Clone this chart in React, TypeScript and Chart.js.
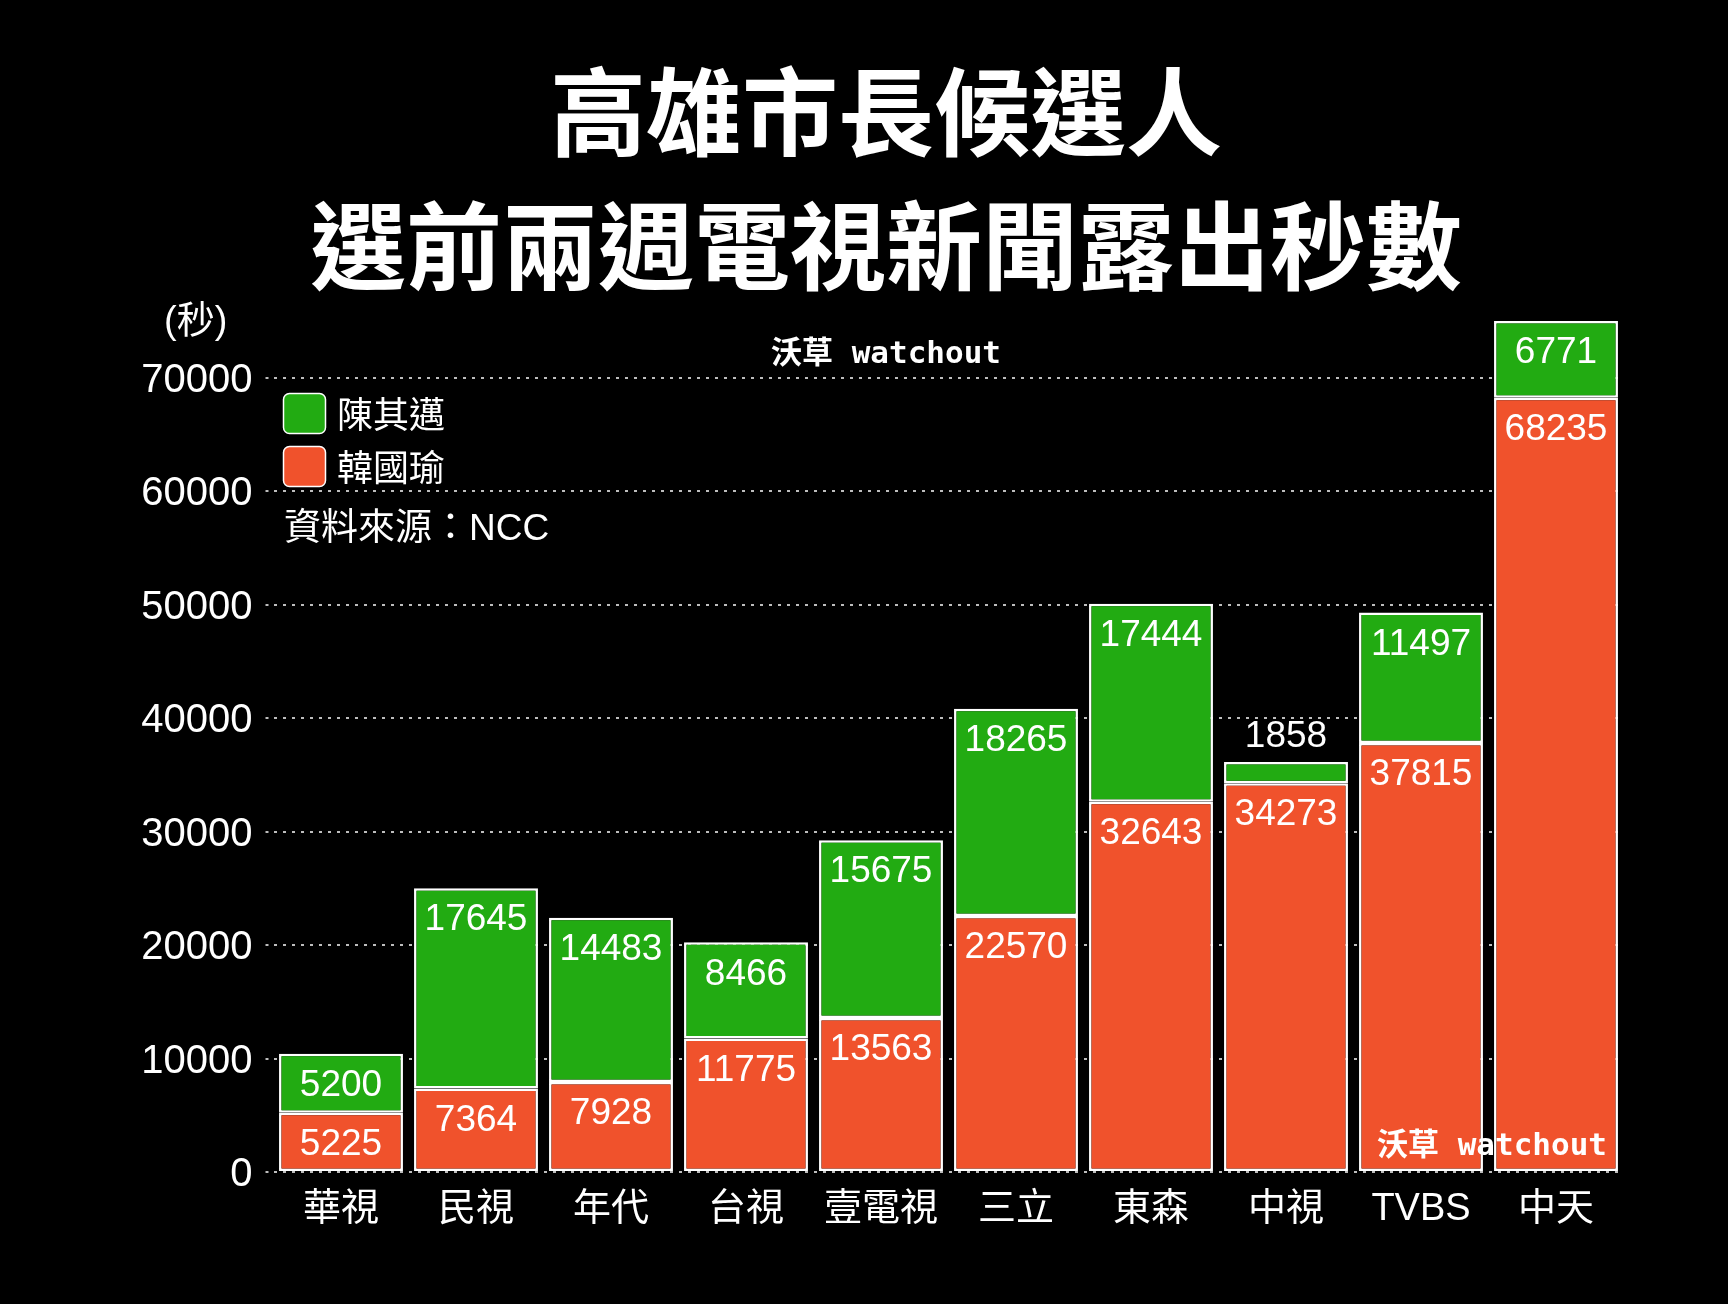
import React, { useEffect, useRef } from 'react';
import { Chart, registerables } from 'chart.js';

Chart.register(...registerables);

const TITLE_LINES = ['高雄市長候選人', '選前兩週電視新聞露出秒數'];
const CATEGORIES = ['華視', '民視', '年代', '台視', '壹電視', '三立', '東森', '中視', 'TVBS', '中天'];
const HAN_VALUES = [5225, 7364, 7928, 11775, 13563, 22570, 32643, 34273, 37815, 68235];
const CHEN_VALUES = [5200, 17645, 14483, 8466, 15675, 18265, 17444, 1858, 11497, 6771];
const Y_TICKS = [0, 10000, 20000, 30000, 40000, 50000, 60000, 70000];
const SERIES_HAN = '韓國瑜';
const SERIES_CHEN = '陳其邁';
const UNIT_LABEL = '(秒)';
const SOURCE_LABEL = '資料來源：NCC';
const WATERMARK = '沃草 watchout';

const GREEN = 'rgb(34,171,18)';
const RED = 'rgb(240,82,44)';
const SANS = "'Liberation Sans', 'Noto Sans CJK TC', sans-serif";
const CJK = "'Noto Sans CJK TC', 'Liberation Sans', sans-serif";
const MONO = "'DejaVu Sans Mono', 'Noto Sans CJK TC', monospace";

const W = 1728;
const H = 1304;

const decorPlugin = {
  id: 'decor',
  beforeDraw(chart: any) {
    const ctx = chart.ctx;
    ctx.save();
    ctx.fillStyle = '#000';
    ctx.fillRect(0, 0, chart.width, chart.height);
    ctx.restore();
  },
  afterDatasetsDraw(chart: any) {
    const ctx = chart.ctx;
    ctx.save();
    ctx.fillStyle = '#fff';
    ctx.textAlign = 'center';
    ctx.textBaseline = 'middle';
    ctx.font = `37px ${SANS}`;
    chart.data.datasets.forEach((ds: any, di: number) => {
      const meta = chart.getDatasetMeta(di);
      meta.data.forEach((el: any, i: number) => {
        const { x, y, base } = el.getProps(['x', 'y', 'base'], true);
        const h = base - y;
        const ty = h < 50 ? y - 25 : y + 32;
        ctx.fillText(String(ds.data[i]), x, ty);
      });
    });
    // bottom watermark
    ctx.font = `bold 31px ${MONO}`;
    ctx.textAlign = 'center';
    ctx.fillText(WATERMARK, 1492, 1147);
    ctx.restore();
  },
  afterDraw(chart: any) {
    const ctx = chart.ctx;
    ctx.save();
    ctx.fillStyle = '#fff';
    // title
    ctx.textAlign = 'center';
    ctx.textBaseline = 'middle';
    ctx.font = `bold 96px ${CJK}`;
    ctx.fillText(TITLE_LINES[0], 886, 112);
    ctx.fillText(TITLE_LINES[1], 886, 246);
    // top watermark
    ctx.font = `bold 31px ${MONO}`;
    ctx.fillText(WATERMARK, 886, 355);
    // unit
    ctx.textAlign = 'left';
    ctx.font = `38px ${SANS}`;
    ctx.fillText(UNIT_LABEL, 164, 323);
    // legend
    const items = [...chart.data.datasets].reverse();
    items.forEach((ds: any, k: number) => {
      const by = 393 + k * 53;
      ctx.beginPath();
      (ctx as any).roundRect(283.5, by + 0.5, 42, 40, 6);
      ctx.fillStyle = ds.backgroundColor;
      ctx.fill();
      ctx.lineWidth = 1.5;
      ctx.strokeStyle = '#fff';
      ctx.stroke();
      ctx.fillStyle = '#fff';
      ctx.font = `36px ${CJK}`;
      ctx.textBaseline = 'middle';
      ctx.fillText(ds.label, 337, by + 21);
    });
    // source
    ctx.font = `37px ${SANS}`;
    ctx.fillText(SOURCE_LABEL, 284, 530);
    ctx.restore();
  },
};

export default function App() {
  const ref = useRef<HTMLCanvasElement | null>(null);

  useEffect(() => {
    document.body.style.margin = '0';
    document.body.style.background = '#000';
    const canvas = ref.current;
    if (!canvas) return;
    const sums = HAN_VALUES.map((v, i) => v + CHEN_VALUES[i]);
    const yMax = Math.max(...sums);
    const barCommon = {
      borderColor: '#fff',
      borderWidth: 2.5,
      borderSkipped: false,
      barPercentage: 0.918,
      categoryPercentage: 1,
    };
    const chart = new Chart(canvas, {
      type: 'bar',
      data: {
        labels: CATEGORIES,
        datasets: [
          { label: SERIES_HAN, data: HAN_VALUES, backgroundColor: RED, ...barCommon },
          { label: SERIES_CHEN, data: CHEN_VALUES, backgroundColor: GREEN, ...barCommon },
        ],
      },
      options: {
        responsive: false,
        animation: false,
        devicePixelRatio: 1,
        layout: { padding: { top: 321, left: 0, right: 104.5, bottom: 0 } },
        plugins: {
          legend: { display: false },
          title: { display: false },
          tooltip: { enabled: false },
        },
        scales: {
          x: {
            stacked: true,
            offset: true,
            grid: { display: false, drawTicks: false },
            border: { display: false },
            ticks: {
              color: '#fff',
              padding: 15,
              font: { family: SANS, size: 38 },
              maxRotation: 0,
              autoSkip: false,
            },
            afterFit(scale: any) {
              scale.height = H - 1172;
            },
          },
          y: {
            stacked: true,
            min: 0,
            max: yMax,
            grid: {
              color: 'rgba(210,210,210,0.9)',
              lineWidth: 2,
              drawTicks: true,
              tickLength: 8,
              tickBorderDash: [3, 6],
              tickColor: 'rgba(210,210,210,0.9)',
              tickWidth: 2,
            },
            border: { display: false, dash: [3, 6] },
            ticks: {
              color: '#fff',
              padding: 13,
              labelOffset: 3,
              autoSkip: false,
              font: { family: SANS, size: 40 },
              callback: (v: any) => String(v),
            },
            afterBuildTicks(scale: any) {
              scale.ticks = Y_TICKS.map((v) => ({ value: v }));
            },
            afterFit(scale: any) {
              scale.width = 273.5;
            },
          },
        },
      },
      plugins: [decorPlugin],
    } as any);
    return () => chart.destroy();
  }, []);

  return (
    <div style={{ width: W, height: H, background: '#000' }}>
      <canvas ref={ref} width={W} height={H} style={{ display: 'block' }} />
    </div>
  );
}
